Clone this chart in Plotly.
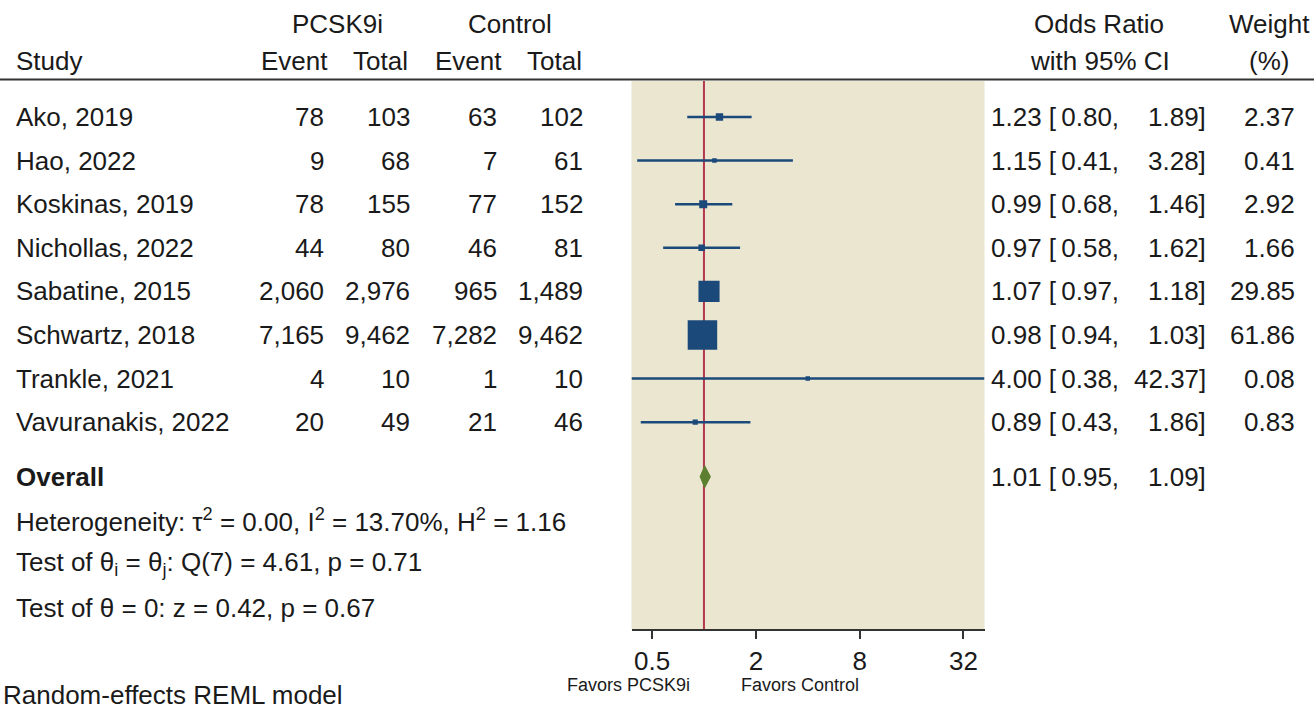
import math
import plotly.graph_objects as go

# ---- data ----
studies = ["Ako, 2019", "Hao, 2022", "Koskinas, 2019", "Nichollas, 2022",
           "Sabatine, 2015", "Schwartz, 2018", "Trankle, 2021", "Vavuranakis, 2022"]
pcsk_event = ["78", "9", "78", "44", "2,060", "7,165", "4", "20"]
pcsk_total = ["103", "68", "155", "80", "2,976", "9,462", "10", "49"]
ctrl_event = ["63", "7", "77", "46", "965", "7,282", "1", "21"]
ctrl_total = ["102", "61", "152", "81", "1,489", "9,462", "10", "46"]
odds_ratio = [1.23, 1.15, 0.99, 0.97, 1.07, 0.98, 4.00, 0.89]
ci_low = [0.80, 0.41, 0.68, 0.58, 0.97, 0.94, 0.38, 0.43]
ci_high = [1.89, 3.28, 1.46, 1.62, 1.18, 1.03, 42.37, 1.86]
weights = [2.37, 0.41, 2.92, 1.66, 29.85, 61.86, 0.08, 0.83]

overall_or = 1.01
overall_low = 0.95
overall_high = 1.09

tick_vals = [0.5, 2, 8, 32]
tick_text = ["0.5", "2", "8", "32"]

stats_lines = [
    "Heterogeneity: \u03c4<sup>2</sup> = 0.00, I<sup>2</sup> = 13.70%, H<sup>2</sup> = 1.16",
    "Test of \u03b8<sub>i</sub> = \u03b8<sub>j</sub>: Q(7) = 4.61, p = 0.71",
    "Test of \u03b8 = 0: z = 0.42, p = 0.67",
]

# ---- layout helpers ----
W, H = 1314, 708
FONT = "Liberation Sans, Arial, sans-serif"
FS = 26
TXT = "#1a1a1a"
NAVY = "#1B4A7A"

n = len(studies)
rows = list(range(n))
overall_row = n + 0.25
stat_rows = [overall_row + 1 + i for i in range(len(stats_lines))]


def px(x):
    return x / W


def py(y):
    return 1 - y / H


fig = go.Figure()

# CI lines
xs, ys = [], []
for r, lo, hi in zip(rows, ci_low, ci_high):
    xs += [lo, hi, None]
    ys += [r, r, None]
fig.add_trace(go.Scatter(x=xs, y=ys, mode="lines",
                         line=dict(color=NAVY, width=2.5),
                         hoverinfo="skip", showlegend=False))

# squares (area proportional to weight)
sizes = [max(3.5 * w ** 0.5 + 2, 4.5) for w in weights]
fig.add_trace(go.Scatter(x=odds_ratio, y=rows, mode="markers",
                         marker=dict(symbol="square", size=sizes, color=NAVY,
                                     opacity=1, line=dict(width=0)),
                         showlegend=False))

# overall diamond
dh = 0.25
fig.add_trace(go.Scatter(
    x=[overall_low, overall_or, overall_high, overall_or, overall_low],
    y=[overall_row, overall_row - dh, overall_row, overall_row + dh, overall_row],
    mode="lines", fill="toself", fillcolor="#5B7F2E",
    line=dict(color="#5B7F2E", width=1), showlegend=False))

ann = []


def add(text, x, y, anchor="left", yref="y", size=FS, color=TXT):
    ann.append(dict(text=text, x=px(x), xref="paper", y=y, yref=yref,
                    xanchor=anchor, yanchor="middle", showarrow=False,
                    font=dict(family=FONT, size=size, color=color)))


# headers
add("PCSK9i", 337, py(24), "center", "paper")
add("Control", 510, py(24), "center", "paper")
add("Study", 14, py(61), "left", "paper")
add("Event", 330, py(61), "right", "paper")
add("Total", 410, py(61), "right", "paper")
add("Event", 504, py(61), "right", "paper")
add("Total", 584, py(61), "right", "paper")
add("Odds Ratio", 1099, py(24), "center", "paper")
add("with 95% CI", 1100, py(61), "center", "paper")
add("Weight", 1269, py(24), "center", "paper")
add("(%)", 1269, py(61), "center", "paper")

# study rows
for i in range(n):
    r = rows[i]
    add(studies[i], 14, r)
    add(pcsk_event[i], 326, r, "right")
    add(pcsk_total[i], 412, r, "right")
    add(ctrl_event[i], 499, r, "right")
    add(ctrl_total[i], 585, r, "right")
    add(f"{odds_ratio[i]:.2f} [\u2009{ci_low[i]:.2f},", 989, r, "left")
    add(f"{ci_high[i]:.2f}]", 1208, r, "right")
    add(f"{weights[i]:.2f}", 1297, r, "right")

# overall
add("<b>Overall</b>", 14, overall_row)
add(f"{overall_or:.2f} [\u2009{overall_low:.2f},", 989, overall_row, "left")
add(f"{overall_high:.2f}]", 1208, overall_row, "right")

for r, s in zip(stat_rows, stats_lines):
    add(s, 14, r)

add("Favors PCSK9i", 692, py(685), "right", "paper", size=18)
add("Favors Control", 739, py(685), "left", "paper", size=18)
add("Random-effects REML model", 1, py(695), "left", "paper")

y_top_px, y_bot_px = 81, 629
row0_px, row_step = 117, 43.6
r_top = (y_top_px - row0_px) / row_step
r_bot = (y_bot_px - row0_px) / row_step

shapes = [
    dict(type="line", xref="paper", yref="paper", x0=0, x1=1,
         y0=py(79.5), y1=py(79.5), line=dict(color="#333333", width=2)),
    dict(type="line", xref="x", yref="y domain", x0=1, x1=1, y0=0, y1=1,
         line=dict(color="#B5364F", width=2), layer="below"),
]

fig.update_layout(
    width=W, height=H,
    margin=dict(l=0, r=0, t=0, b=0),
    paper_bgcolor="white",
    plot_bgcolor="#EAE6D0",
    showlegend=False,
    annotations=ann,
    shapes=shapes,
    xaxis=dict(type="log", domain=[px(631.5), px(984.5)],
               range=[math.log10(ci_low[6]), math.log10(ci_high[6])],
               tickvals=tick_vals, ticktext=tick_text,
               ticks="outside", ticklen=8, tickwidth=2, tickcolor="#333333",
               showline=True, linecolor="#333333", linewidth=2,
               showgrid=False, zeroline=False,
               tickfont=dict(family=FONT, size=FS, color=TXT)),
    yaxis=dict(domain=[py(y_bot_px), py(y_top_px)],
               range=[r_bot, r_top], showgrid=False, zeroline=False,
               showticklabels=False, ticks="", showline=False),
)

fig.write_html("out.html",
               config={"displayModeBar": False},
               post_script="document.body.style.margin='0px';"
                           "document.body.style.overflow='hidden';")
